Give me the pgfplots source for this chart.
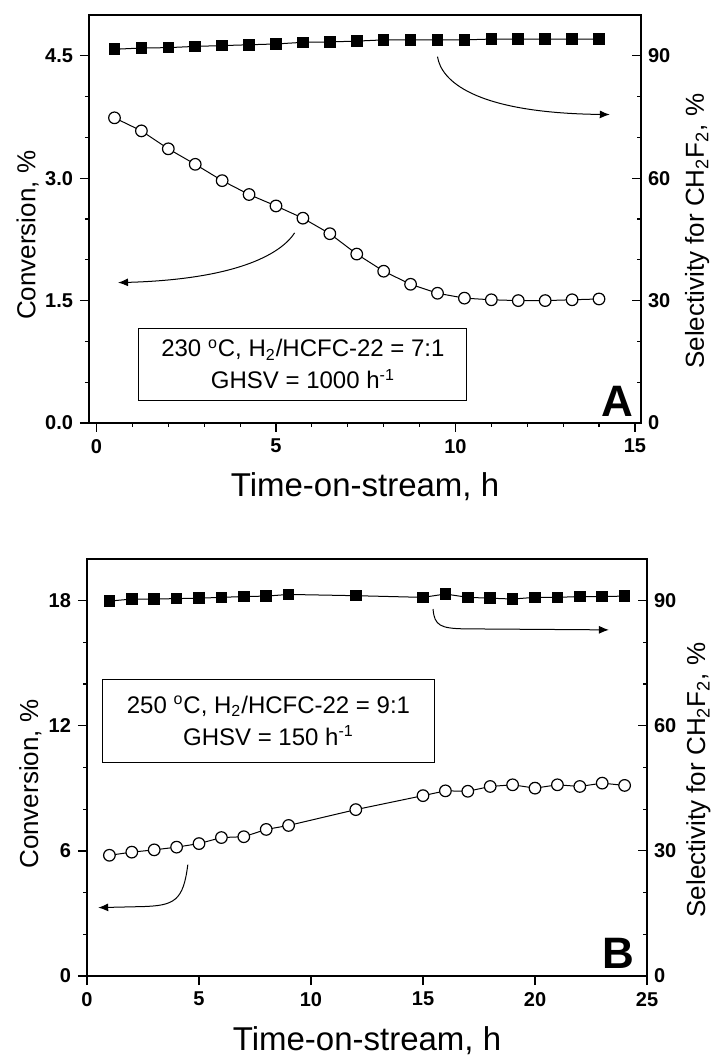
\documentclass[border=0pt]{standalone}
\usepackage{fontspec}
\setmainfont{Liberation Sans}
\usepackage{pgfplots}
\pgfplotsset{compat=1.18}
\usetikzlibrary{arrows.meta}

% conversion (left axis) and selectivity (right axis)
\pgfplotstableread{
t conv
0.5 3.74
1.25 3.58
2.0 3.36
2.75 3.17
3.5 2.97
4.25 2.80
5.0 2.66
5.75 2.51
6.5 2.32
7.25 2.07
8.0 1.86
8.75 1.70
9.5 1.59
10.25 1.53
11.0 1.51
11.75 1.50
12.5 1.50
13.25 1.51
14.0 1.52
}\convA
\pgfplotstableread{
t sel
0.5 91.6
1.25 91.9
2.0 92.0
2.75 92.3
3.5 92.5
4.25 92.7
5.0 92.9
5.75 93.3
6.5 93.4
7.25 93.6
8.0 93.9
8.75 93.9
9.5 93.9
10.25 93.9
11.0 94.1
11.75 94.1
12.5 94.1
13.25 94.1
14.0 94.1
}\selA
\pgfplotstableread{
t conv
1 5.79
2 5.94
3 6.05
4 6.18
5 6.35
6 6.64
7 6.68
8 7.03
9 7.22
12 7.98
15 8.65
16 8.88
17 8.86
18 9.09
19 9.17
20 9.01
21 9.17
22 9.09
23 9.25
24 9.14
}\convB
\pgfplotstableread{
t sel
1 89.9
2 90.4
3 90.4
4 90.5
5 90.6
6 90.8
7 91.0
8 91.1
9 91.5
12 91.2
15 90.8
16 91.6
17 90.8
18 90.6
19 90.4
20 90.8
21 90.8
22 91.0
23 91.0
24 91.1
}\selB

\pgfplotsset{
  panel/.style={
    scale only axis,
    axis line style={line width=0.6pt},
    every tick/.style={black, line width=0.6pt},
    major tick length=4.5pt, minor tick length=2pt,
    tick align=outside,
    tick label style={font=\fontsize{10}{11}\selectfont\bfseries},
    /pgf/number format/assume math mode=true,
    label style={font=\fontsize{13}{15}\selectfont},
  },
  convplot/.style={black, line width=0.5pt, mark=*, mark size=2.9pt,
    mark options={fill=white, line width=0.6pt}},
  selplot/.style={black, line width=0.5pt, mark=square*, mark size=2.65pt,
    mark options={fill=black}},
}

\begin{document}
\begin{tikzpicture}
\useasboundingbox (0,0) rectangle (356.5pt,527.5pt);

% ---------- panel A ----------
\begin{axis}[panel, at={(44.5pt,316pt)}, anchor=south west,
  width=276pt, height=204pt,
  xmin=-0.21, xmax=15.17, ymin=0, ymax=5,
  xtick={0,5,10,15}, minor xtick={1,2,3,4,6,7,8,9,11,12,13,14},
  ytick={0,1.5,3,4.5}, minor ytick={0.5,1,2,2.5,3.5,4},
  xtick pos=bottom, ytick pos=left,
  yticklabel style={/pgf/number format/fixed, /pgf/number format/fixed zerofill,
    /pgf/number format/precision=1},
  xlabel={Time-on-stream, h},
  xlabel style={at={(axis description cs:0.5,0)}, anchor=base, yshift=-37pt,
    font=\fontsize{16.5}{18}\selectfont},
  ylabel={Conversion, \%},
  ylabel style={at={(axis description cs:-0.097,0.46)}, anchor=base},
  clip=false]
\addplot[convplot] table[x=t, y=conv] {\convA};
\draw[line width=0.5pt] (axis cs:1.18,0.28) rectangle (axis cs:10.32,1.16);
\node[align=center, font=\fontsize{12}{16}\selectfont] at (axis cs:5.75,0.72)
  {230 \textsuperscript{o}C, H\textsubscript{2}/HCFC-22 = 7:1\\GHSV = 1000 h\textsuperscript{-1}};
\draw[line width=0.5pt, -{Latex[length=5pt,width=4pt]}]
  (axis cs:5.52,2.33) .. controls (axis cs:5.1,2.05) and (axis cs:3.8,1.76) .. (axis cs:0.6,1.72);
\draw[line width=0.5pt, -{Latex[length=5pt,width=4pt]}]
  (axis cs:9.5,4.49) .. controls (axis cs:9.6,4.2) and (axis cs:10.5,3.8) .. (axis cs:14.3,3.78);
\node[anchor=base east, inner sep=0pt, font=\fontsize{22}{24}\selectfont\bfseries]
  at ([xshift=-3.5pt, yshift=3pt]rel axis cs:1,0) {A};
\end{axis}
\begin{axis}[panel, at={(44.5pt,316pt)}, anchor=south west,
  width=276pt, height=204pt,
  xmin=-0.21, xmax=15.17, ymin=0, ymax=100,
  axis y line*=right, axis x line=none, tick align=inside,
  ytick={0,30,60,90}, minor ytick={10,20,40,50,70,80},
  ylabel={Selectivity for CH\textsubscript{2}F\textsubscript{2}, \%},
  ylabel style={at={(axis description cs:1.114,0.47)}, anchor=base}]
\addplot[selplot] table[x=t, y=sel] {\selA};
\end{axis}

% ---------- panel B ----------
\begin{axis}[panel, at={(43.5pt,39.5pt)}, anchor=south west,
  width=280pt, height=208.5pt,
  xmin=0, xmax=25, ymin=0, ymax=20,
  xtick={0,5,10,15,20,25},
  ytick={0,6,12,18}, minor ytick={2,4,8,10,14,16},
  xtick pos=bottom, ytick pos=left,
  xlabel={Time-on-stream, h},
  xlabel style={at={(axis description cs:0.5,0)}, anchor=base, yshift=-37pt,
    font=\fontsize{16.5}{18}\selectfont},
  ylabel={Conversion, \%},
  ylabel style={at={(axis description cs:-0.0875,0.46)}, anchor=base},
  clip=false]
\addplot[convplot] table[x=t, y=conv] {\convB};
\draw[line width=0.5pt] (axis cs:0.7,10.25) rectangle (axis cs:15.5,14.24);
\node[align=center, font=\fontsize{12}{16}\selectfont] at (axis cs:8.1,12.25)
  {250 \textsuperscript{o}C, H\textsubscript{2}/HCFC-22 = 9:1\\GHSV = 150 h\textsuperscript{-1}};
\draw[line width=0.5pt, -{Latex[length=5pt,width=4pt]}]
  (axis cs:4.5,5.34) .. controls (axis cs:4.3,3.6) and (axis cs:3.9,3.38) .. (axis cs:2.5,3.33) -- (axis cs:0.5,3.28);
\draw[line width=0.5pt, -{Latex[length=5pt,width=4pt]}]
  (axis cs:15.45,17.6) .. controls (axis cs:15.5,16.8) and (axis cs:15.8,16.68) .. (axis cs:16.8,16.65) -- (axis cs:23.3,16.6);
\node[anchor=base east, inner sep=0pt, font=\fontsize{22}{24}\selectfont\bfseries]
  at ([xshift=-6pt, yshift=4pt]rel axis cs:1,0) {B};
\end{axis}
\begin{axis}[panel, at={(43.5pt,39.5pt)}, anchor=south west,
  width=280pt, height=208.5pt,
  xmin=0, xmax=25, ymin=0, ymax=100,
  axis y line*=right, axis x line=none, tick align=inside,
  ytick={0,30,60,90}, minor ytick={10,20,40,50,70,80},
  ylabel={Selectivity for CH\textsubscript{2}F\textsubscript{2}, \%},
  ylabel style={at={(axis description cs:1.104,0.47)}, anchor=base}]
\addplot[selplot] table[x=t, y=sel] {\selB};
\end{axis}
\end{tikzpicture}
\end{document}
